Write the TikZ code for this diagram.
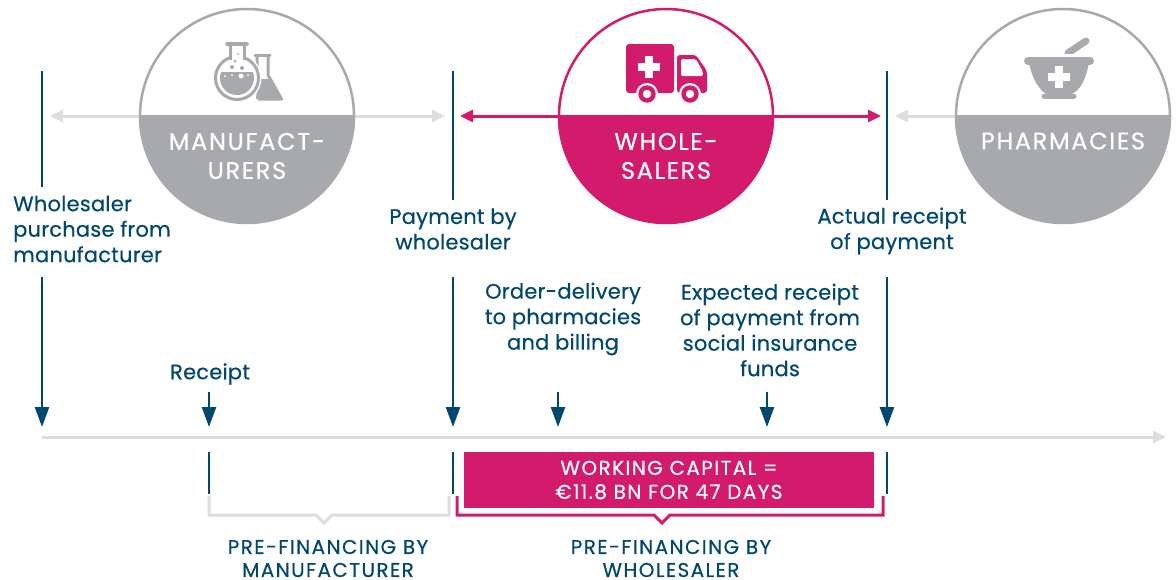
\documentclass[tikz,border=0pt]{standalone}
\usepackage{fontspec}
\setmainfont{Poppins}
\newfontfamily\stepfont{Poppins}[FakeBold=0.5, LetterSpace=1]
\newfontfamily\capsfont{Poppins}[FakeBold=0.5, LetterSpace=7]
\usetikzlibrary{arrows.meta}
\definecolor{navy}{RGB}{0,72,112}
\definecolor{magenta}{RGB}{210,27,108}
\definecolor{midgrey}{RGB}{167,169,172}
\definecolor{lightgrey}{RGB}{220,221,222}

\begin{document}
\begin{tikzpicture}[x = 1pt, y = -1pt]
\tikzstyle{navyLine} = [draw = navy, line width = 2.5pt]
\tikzstyle{navyArrow} = [navyLine, -{Triangle[length = 20pt, width = 14pt]}]
\tikzstyle{greyArrow} = [draw = lightgrey, line width = 3pt, {Triangle[length = 13pt, width = 12pt]}-{Triangle[length = 13pt, width = 12pt]}]
\tikzstyle{pinkArrow} = [draw = magenta, line width = 3pt, {Triangle[length = 13pt, width = 12pt]}-{Triangle[length = 13pt, width = 12pt]}]
\tikzstyle{stepLabel} = [text = navy, align = center, font = \stepfont\fontsize{21}{25.5}\selectfont, inner sep = 0pt]
\tikzstyle{capsLabel} = [text = navy, align = center, font = \capsfont\fontsize{20}{23}\selectfont, inner sep = 0pt]
\tikzstyle{circleLabel} = [text = white, align = center, font = \capsfont\fontsize{24}{29}\selectfont, inner sep = 0pt]
\useasboundingbox (0,0) rectangle (1176,579);

\coordinate (gl) at (50,116);
\coordinate (gr) at (445,116);
\coordinate (pl) at (460,116);
\coordinate (pr) at (881,116);
\coordinate (hl) at (895,116);
\coordinate (hr) at (960,116);
\coordinate (tl) at (42,437);
\coordinate (tr) at (1166,437);
\draw[greyArrow] (gl) -- (gr);
\draw[pinkArrow] (pl) -- (pr);
\draw[draw = lightgrey, line width = 3pt, {Triangle[length = 13pt, width = 12pt]}-] (hl) -- (hr);
\draw[draw = lightgrey, line width = 3pt, -{Triangle[length = 13pt, width = 12pt]}] (tl) -- (tr);

% circles
\foreach \name/\cx/\col in {man/247/midgrey, who/666/magenta, pha/1063/midgrey} {
  \fill[white] (\cx,116) circle (107);
  \draw[\col, line width = 2.5pt] (\cx,116) circle (107);
  \fill[\col] (\cx-108.2,115) arc (180:0:108.2) -- cycle;
}
\node[circleLabel] (manText) at (247,156) {MANUFACT-\\URERS};
\node[circleLabel] (whoText) at (666,156) {WHOLE-\\SALERS};
\node[circleLabel] (phaText) at (1063,141) {PHARMACIES};

% flasks
\draw[midgrey, line width = 3pt, line join = round] (257,55) -- (257,75) (268,55) -- (268,75) -- (281.5,99) -- (258,99);
\draw[midgrey, line width = 3pt, line cap = round] (255,55) -- (270,55);
\fill[midgrey] (258,79) -- (270,79) -- (280,99) -- (256,99) -- cycle;
\fill[white] (237,78) circle (24.5);
\draw[midgrey, line width = 3pt] (237,78) circle (21.5);
\fill[white] (231,42) rectangle (243,64);
\draw[midgrey, line width = 3pt] (230,45) -- (230,60);
\draw[midgrey, line width = 3pt] (244,45) -- (244,60);
\draw[midgrey, line width = 3.5pt, line cap = round] (227,44) -- (247,44);
\fill[midgrey] (252.9,72) arc (-20.7:200.7:17) -- cycle;
\fill[white] (225,76) circle (1);
\fill[white] (232,75) circle (1);
\fill[white] (241,76) circle (2.5);
\fill[white] (248,75) circle (1);
\fill[midgrey] (232,67) circle (2);
\fill[midgrey] (242,68) circle (2);
\fill[midgrey] (235,61) circle (1.5);
\fill[midgrey] (238,54) circle (1);

% truck
\fill[magenta, rounded corners = 3pt] (626,44) rectangle (674,93);
\fill[magenta, rounded corners = 3pt] (677,93) -- (677,55) -- (696,55) -- (707,71) -- (707,93) -- cycle;
\fill[white, rounded corners = 2pt] (681,59) -- (696,59) -- (703,72) -- (703,76) -- (681,76) -- cycle;
\fill[white] (638,63.3) rectangle (660,70.7);
\fill[white] (645.3,56) rectangle (652.7,78);
\foreach \wx in {647,690} {
  \fill[white] (\wx,94) circle (11);
  \fill[magenta] (\wx,94) circle (8.7);
  \fill[white] (\wx,94) circle (4.2);
}

% mortar
\draw[midgrey, line width = 7pt, line cap = round] (1068,53) -- (1086,41);
\fill[white] (1060,54) rectangle (1080,57);
\draw[midgrey, line width = 8pt, line cap = round] (1028,61) -- (1090,61);
\fill[midgrey] (1029,62) .. controls (1032,80) and (1040,90) .. (1046,94) -- (1072,94) .. controls (1080,90) and (1086,80) .. (1089,62) -- cycle;
\draw[midgrey, line width = 5pt, line cap = round] (1044,96) -- (1074,96);
\fill[white] (1048,73.3) rectangle (1070,80.7);
\fill[white] (1055.3,66) rectangle (1062.7,88);

% timeline verticals
\coordinate (a1) at (42,71);
\coordinate (a2) at (42,187);
\coordinate (a3) at (42,277);
\coordinate (a4) at (42,427);
\coordinate (b1) at (453,71);
\coordinate (b2) at (453,200);
\coordinate (b3) at (453,277);
\coordinate (b4) at (453,427);
\coordinate (c1) at (887,71);
\coordinate (c2) at (887,200);
\coordinate (c3) at (887,277);
\coordinate (c4) at (887,427);
\draw[navyLine] (a1) -- (a2);
\draw[navyArrow] (a3) -- (a4);
\draw[navyLine] (b1) -- (b2);
\draw[navyArrow] (b3) -- (b4);
\draw[navyLine] (c1) -- (c2);
\draw[navyArrow] (c3) -- (c4);
\foreach \i/\px in {1/209, 2/558, 3/767} {
  \coordinate (s\i) at (\px,392);
  \coordinate (e\i) at (\px,427);
  \draw[navyArrow] (s\i) -- (e\i);
}
\foreach \i/\px in {1/209, 2/453, 3/887} {
  \coordinate (u\i) at (\px,452);
  \coordinate (v\i) at (\px,494);
  \draw[navyLine] (u\i) -- (v\i);
}

% labels
\node[stepLabel, anchor = west, align = left] (buy) at (13,229) {Wholesaler\\purchase from\\manufacturer};
\node[stepLabel] (pay) at (453,229) {Payment by\\wholesaler};
\node[stepLabel] (act) at (892,231) {Actual receipt\\of payment};
\node[stepLabel] (ord) at (563,319) {Order-delivery\\to pharmacies\\and billing};
\node[stepLabel] (exp) at (770,330) {Expected receipt\\of payment from\\social insurance\\funds};
\node[stepLabel] (rec) at (210,374) {Receipt};

% working capital
\node[fill = magenta, text = white, align = center, minimum width = 410pt, minimum height = 56pt, inner sep = 0pt, font = \capsfont\fontsize{20}{24}\selectfont] (wc) at (669,480) {WORKING CAPITAL =\\€11.8 BN FOR 47 DAYS};

% brackets
\draw[lightgrey, line width = 3pt] (209,496) -- (209,515) -- (316,515) -- (324,523) -- (332,515) -- (449,515) -- (449,496);
\draw[magenta, line width = 3pt] (457,496) -- (457,515) -- (654,515) -- (662,523) -- (670,515) -- (883,515) -- (883,496);
\node[capsLabel] (pm) at (328,558.5) {PRE-FINANCING BY\\MANUFACTURER};
\node[capsLabel] (pw) at (671,558.5) {PRE-FINANCING BY\\WHOLESALER};
\end{tikzpicture}
\end{document}
